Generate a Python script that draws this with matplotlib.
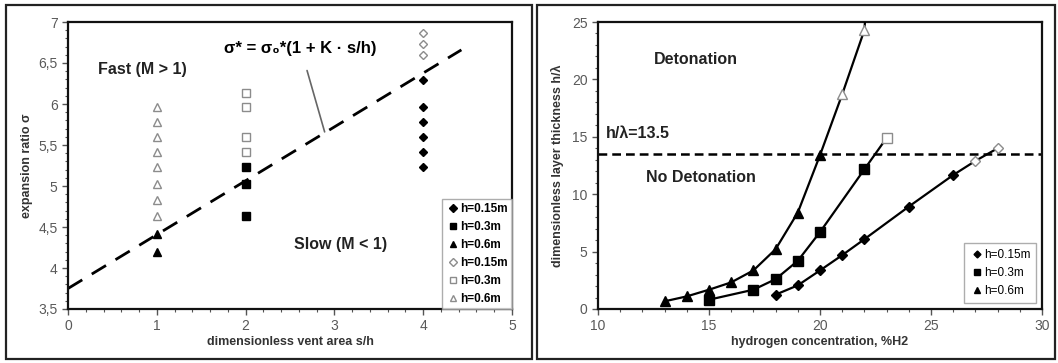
import matplotlib
matplotlib.use("Agg")
import matplotlib.pyplot as plt
from matplotlib.patches import Rectangle
from matplotlib.ticker import MultipleLocator, FuncFormatter

plt.rcParams['font.family'] = ['Liberation Sans', 'DejaVu Sans']

# left chart: expansion ratio vs dimensionless vent area
tri_fill_x = [1, 1]
tri_fill_y = [4.42, 4.20]
sq_fill_x = [2, 2, 2]
sq_fill_y = [5.23, 5.03, 4.63]
dia_fill_x = [4, 4, 4, 4, 4, 4]
dia_fill_y = [6.29, 5.96, 5.78, 5.60, 5.42, 5.23]
dia_open_x = [4, 4, 4]
dia_open_y = [6.86, 6.73, 6.60]
sq_open_x = [2, 2, 2, 2]
sq_open_y = [6.13, 5.96, 5.60, 5.42]
tri_open_x = [1, 1, 1, 1, 1, 1, 1, 1]
tri_open_y = [5.96, 5.78, 5.60, 5.42, 5.23, 5.03, 4.83, 4.63]
fit_x = [0, 4.43]
fit_y = [3.75, 6.66]

# right chart: h/lambda vs hydrogen concentration
h015_x = [18, 19, 20, 21, 22, 24, 26, 27, 28]
h015_y = [1.25, 2.06, 3.36, 4.69, 6.08, 8.92, 11.67, 12.9, 14.0]
h015_open = 2  # last two points are open markers
h03_x = [15, 17, 18, 19, 20, 22, 23]
h03_y = [0.81, 1.68, 2.6, 4.2, 6.7, 12.17, 14.9]
h03_open = 1
h06_x = [13, 14, 15, 16, 17, 18, 19, 20, 21, 22]
h06_y = [0.67, 1.1, 1.68, 2.32, 3.36, 5.21, 8.4, 13.4, 18.7, 24.3]
h06_open = 2
h06_end_x = [22, 22.06]
h06_end_y = [24.3, 26]
threshold = 13.5

W, H = 1058, 363
fig = plt.figure(figsize=(W / 100, H / 100), dpi=100)

def px_axes(x0, y0, x1, y1):
    return fig.add_axes([x0 / W, 1 - y1 / H, (x1 - x0) / W, (y1 - y0) / H])

# panel frames
for x0, x1 in [(6, 532), (537, 1055)]:
    fig.add_artist(Rectangle((x0 / W, 4 / H), (x1 - x0) / W, (H - 9) / H,
                             transform=fig.transFigure, fill=False,
                             edgecolor='#222222', lw=1.6))

tick_gray = '#595959'
lab_color = '#333333'

def style_axes(ax):
    for s in ax.spines.values():
        s.set_linewidth(1.6)
        s.set_color('#111111')
    ax.tick_params(which='both', direction='out', color='#555555', labelcolor=tick_gray,
                   labelsize=10)
    ax.tick_params(which='major', length=4, width=1)
    ax.tick_params(which='minor', length=2.5, width=0.8)

# ---- left ----
ax = px_axes(68, 22, 512, 309)
style_axes(ax)
ax.plot(fit_x, fit_y, color='black', lw=2, dashes=(6, 4), zorder=2)
ms = 5.5
ax.plot(dia_fill_x, dia_fill_y, 'D', color='black', ms=4.5, ls='none', label='h=0.15m', zorder=3)
ax.plot(sq_fill_x, sq_fill_y, 's', color='black', ms=ms, ls='none', label='h=0.3m', zorder=3)
ax.plot(tri_fill_x, tri_fill_y, '^', color='black', ms=ms, ls='none', label='h=0.6m', zorder=3)
ax.plot(dia_open_x, dia_open_y, 'D', mfc='white', mec='#8c8c8c', ms=4.5, ls='none', label='h=0.15m', zorder=3)
ax.plot(sq_open_x, sq_open_y, 's', mfc='white', mec='#8c8c8c', ms=ms, ls='none', label='h=0.3m', zorder=3)
ax.plot(tri_open_x, tri_open_y, '^', mfc='white', mec='#8c8c8c', ms=ms, ls='none', label='h=0.6m', zorder=3)
ax.set_xlim(0, 5)
ax.set_ylim(3.5, 7)
ax.xaxis.set_major_locator(MultipleLocator(1))
ax.xaxis.set_minor_locator(MultipleLocator(0.2))
ax.yaxis.set_major_locator(MultipleLocator(0.5))
ax.yaxis.set_minor_locator(MultipleLocator(0.1))
ax.yaxis.set_major_formatter(FuncFormatter(lambda v, p: ('%g' % v).replace('.', ',')))
ax.set_xlabel('dimensionless vent area s/h', fontsize=9, fontweight='bold', color=lab_color, labelpad=2)
ax.set_ylabel('expansion ratio σ', fontsize=9, fontweight='bold', color=lab_color, labelpad=4)
ax.text(0.34, 6.42, 'Fast (M > 1)', fontsize=11.5, fontweight='bold', color='#222222', va='center')
ax.text(2.55, 4.29, 'Slow (M < 1)', fontsize=11.5, fontweight='bold', color='#222222', va='center')
ax.annotate('σ* = σ₀*(1 + K · s/h)', xy=(2.89, 5.66), xytext=(2.62, 6.68),
            fontsize=12, fontweight='bold', color='black', ha='center', va='center',
            arrowprops=dict(arrowstyle='-', color='#666666', lw=1.2, shrinkA=9, shrinkB=0))
leg = ax.legend(loc='lower right', prop={'weight': 'bold', 'size': 8.5},
                frameon=True, fancybox=False, edgecolor='#999999', borderpad=0.35,
                handletextpad=0.0, handlelength=1.2, labelspacing=0.5,
                borderaxespad=0.0, markerscale=0.8)
leg.get_frame().set_linewidth(1)

# ---- right ----
ax2 = px_axes(598, 22, 1042, 309)
style_axes(ax2)
ax2.axhline(threshold, color='black', lw=1.8, dashes=(3.5, 2), zorder=2)
series = [(h015_x, h015_y, h015_open, 'D', 5, 'h=0.15m'),
          (h03_x, h03_y, h03_open, 's', 6.5, 'h=0.3m'),
          (h06_x, h06_y, h06_open, '^', 6.5, 'h=0.6m')]
for xs, ys, n_open, mk, size, lab in series:
    ax2.plot(xs, ys, color='black', lw=1.6, zorder=3)
    ax2.plot(xs[:-n_open], ys[:-n_open], mk, color='black', ms=size, ls='none', label=lab, zorder=4)
    ax2.plot(xs[-n_open:], ys[-n_open:], mk, mfc='white', mec='#8c8c8c', ms=size, ls='none', zorder=4)
ax2.plot(h06_end_x, h06_end_y, color='black', lw=1.6, zorder=3)
ax2.set_xlim(10, 30)
ax2.set_ylim(0, 25)
ax2.xaxis.set_major_locator(MultipleLocator(5))
ax2.xaxis.set_minor_locator(MultipleLocator(1))
ax2.yaxis.set_major_locator(MultipleLocator(5))
ax2.yaxis.set_minor_locator(MultipleLocator(1))
ax2.set_xlabel('hydrogen concentration, %H2', fontsize=9, fontweight='bold', color=lab_color, labelpad=2)
ax2.set_ylabel('dimensionless layer thickness h/λ', fontsize=9, fontweight='bold', color=lab_color, labelpad=6)
ax2.text(12.5, 21.7, 'Detonation', fontsize=11.5, fontweight='bold', color='#222222', va='center')
ax2.text(12.15, 11.45, 'No Detonation', fontsize=11.5, fontweight='bold', color='#222222', va='center')
ax2.text(10.35, 15.3, 'h/λ=13.5', fontsize=11.5, fontweight='bold', color='#222222', va='center')
leg2 = ax2.legend(loc='lower right', prop={'size': 8.5},
                  frameon=True, fancybox=False, edgecolor='#999999', borderpad=0.5,
                  handletextpad=0.0, handlelength=1.2, labelspacing=0.5,
                  borderaxespad=0.5, markerscale=0.7)
leg2.get_frame().set_linewidth(1)

fig.savefig('out.png', dpi=100)
